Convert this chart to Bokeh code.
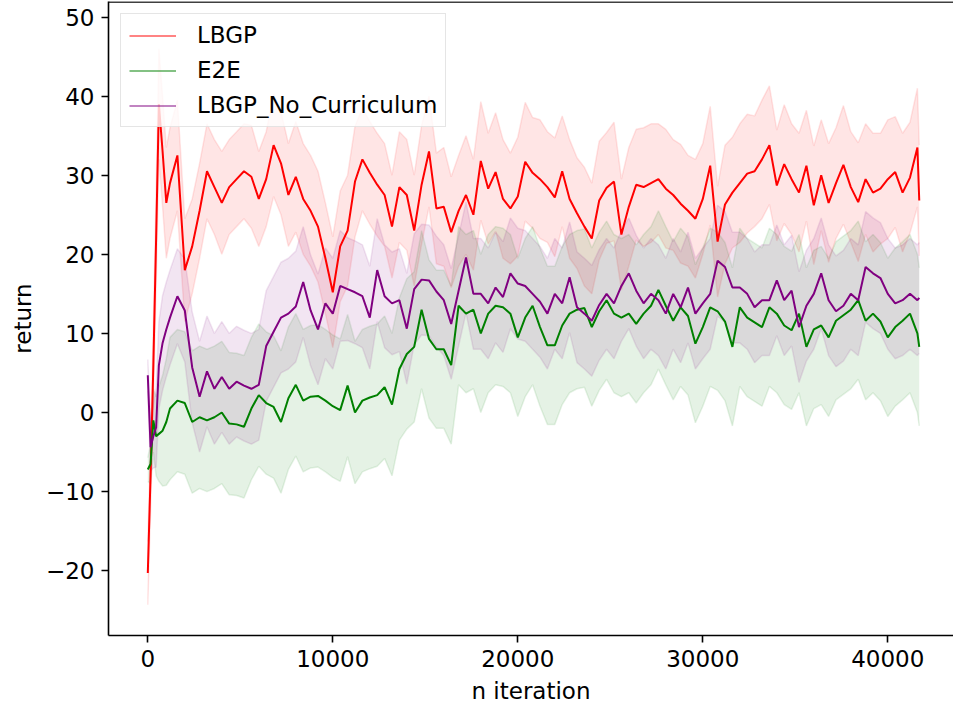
from bokeh.plotting import figure
from bokeh.models import Range1d, FixedTicker, CustomJSTickFormatter, Span, Legend, LegendItem
from bokeh.embed import file_html
from bokeh.resources import INLINE

# sampling grid (iterations)
iters = [0, 150, 300, 450, 600, 800, 1000] + list(range(1200, 41601, 400)) + [41700]

x_ticks = [0, 10000, 20000, 30000, 40000]
y_ticks = [-20, -10, 0, 10, 20, 30, 40, 50]

labels = ["LBGP", "E2E", "LBGP_No_Curriculum"]

lbgp_mean = [
    -20.3, -8, 6, 22, 39, 33, 26.5,
    29, 32.5, 18, 21, 25.5, 30.5, 28.5, 26.5, 28.5, 29.5,
    30.5, 29.8, 27, 29.5, 33.8, 31.5, 27.5, 29.8, 27, 25.5,
    23.5, 19.5, 15.2, 21, 23, 29.2, 32, 30.3, 28.8, 27.5,
    23.5, 28.5, 27.5, 23, 28.8, 33, 25.8, 26, 22.8, 25.5,
    27.5, 25, 31.8, 28.3, 30.4, 27, 25.8, 27.3, 31.7, 30.3,
    29.5, 28.5, 27.2, 30.5, 27, 25.2, 23.5, 22, 26.8, 28.4,
    29.2, 22.5, 26, 28.8, 28.5, 29, 29.5, 28.3, 27.5, 26.4,
    25.5, 24.5, 27, 31.2, 21.6, 26.3, 27.8, 29, 30.2, 30.5,
    32, 33.8, 28.7, 31.4, 29.5, 27.8, 31.2, 26.2, 30, 26.5,
    29, 31.3, 28.5, 26.6, 29.5, 27.8, 28.3, 29.5, 30.4, 27.8,
    29.7, 33.5, 26.8]
lbgp_std = [
    4, 4.5, 5, 6, 7, 7, 7,
    7, 7, 6.5, 6, 6, 6, 6, 6.5, 6, 6,
    6, 6.5, 6, 6, 6.5, 6.5, 6.5, 7, 7, 7,
    7, 7, 7, 7, 7, 7, 6.5, 6.5, 6.5, 6.5,
    6.5, 7, 7, 7, 7.5, 7, 7, 7.5, 7, 7,
    7.5, 7, 7.5, 7, 7.5, 7.5, 7, 7.5, 7.5, 7,
    7.5, 7, 7.5, 7, 7.5, 7, 7.5, 7, 7.5, 7,
    7.5, 7, 7.5, 7, 7.5, 7.5, 7, 7.5, 7, 7.5,
    7, 7.5, 7, 7.5, 7, 7.5, 7, 7.5, 7.5, 7,
    7.5, 7.5, 7, 7.5, 7, 7.5, 7, 7.5, 7, 7.5,
    7, 7.5, 7, 7.5, 7, 7.5, 7, 7.5, 7, 7.5,
    7, 7.5, 7]

e2e_mean = [
    -7.2, -6.5, -1, -3, -2.7, -2.3, -1.2,
    0.5, 1.5, 1.2, -1.2, -0.6, -1, -0.6, 0, -1.4, -1.5,
    -1.8, 0.5, 2.2, 1.2, 0.7, -1.2, 1.8, 3.5, 1.5, 2.0,
    2.1, 1.5, 0.8, 0.3, 3.4, 0, 1.5, 1.9, 2.2, 3.2,
    1.0, 5.5, 7.4, 8.3, 13, 9.3, 8, 8, 6, 13.5,
    12.5, 13, 10, 12.5, 13.5, 13.3, 12.5, 9.5, 12, 13.5,
    10.8, 8.5, 8.5, 11, 12.5, 13, 13.2, 10.8, 12.8, 14.2,
    12.5, 12, 12.5, 11.2, 12.5, 13.5, 15.5, 13.5, 11.6, 13.3,
    12.2, 8.7, 10.8, 13.3, 12.8, 11.5, 8.3, 13.3, 12, 11.4,
    10.8, 13.3, 12.5, 11, 10.4, 12.5, 8.3, 10.5, 11, 9.5,
    11.6, 12.3, 13, 14.2, 11.6, 12.5, 11.5, 9.5, 10.8, 11.6,
    12.5, 10, 8.3]
e2e_std = [
    1.5, 2.5, 4, 5, 6, 7, 8,
    9, 9, 9, 9, 9, 9, 9, 9, 9, 9,
    9, 9, 9, 9, 9, 9, 9, 9, 9, 9,
    9, 9, 9, 9, 9, 9, 9, 9, 9, 9,
    9, 9, 9.5, 9.5, 10, 10, 10, 10, 10, 10,
    10, 10, 10, 10, 10, 10, 10, 10, 10, 10,
    10, 10, 10, 10, 10, 10, 10, 10, 10, 10,
    10, 10, 10, 10, 10, 10, 10, 10, 10, 10,
    10, 10, 10, 10, 10, 10, 10, 10, 10, 10,
    10, 10, 10, 10, 10, 10, 10, 10, 10, 10,
    10, 10, 10, 10, 10, 10, 10, 10, 10, 10,
    10, 10, 10]

nocur_mean = [
    4.7, -4.4, -3, -1.9, 6, 8.8, 10.5,
    12, 14.7, 12.9, 5.7, 2, 5.2, 3, 4.5, 3, 3.9,
    3.4, 3, 3.5, 8.4, 10.2, 12, 12.5, 13.4, 16.5, 12.9,
    10.5, 13.8, 12.5, 16, 15.6, 15.2, 14.7, 12, 18, 14.7,
    13.8, 14.2, 10.6, 15.6, 16.8, 16.7, 15.3, 14.2, 11.2, 15.4,
    19.6, 15, 15, 13.8, 15.8, 14.6, 17.6, 16.3, 16, 15,
    14, 12.5, 15, 13.8, 17.1, 13.3, 12.5, 11.6, 13.6, 15,
    13.8, 16, 17.6, 15.4, 13.8, 15, 14.2, 12.5, 15, 13.3,
    15.8, 12.5, 13.8, 15, 19.2, 18.4, 15.8, 15.8, 15, 13.3,
    14.2, 14.2, 16.7, 14.2, 15.4, 10.8, 13.5, 15, 17.6, 14.2,
    12.8, 13.5, 15, 14.2, 18.4, 17.6, 17, 15, 13.8, 14.2,
    15, 14.2, 14.5]
nocur_std = [
    2, 3, 4, 5, 5.5, 6, 6,
    6, 6, 6.5, 7, 7, 7, 7, 7, 7, 7,
    7, 7, 7, 7, 7, 7, 7, 7, 7, 7,
    7, 7, 7, 7, 6.5, 6.5, 6.5, 6.5, 6.5, 6.5,
    6.5, 6.5, 7, 7, 7, 7, 7, 7, 7, 7,
    7, 7, 7, 7, 7, 7, 7, 7, 7, 7,
    7, 7, 7, 7, 7, 7, 7, 7, 7, 7,
    7, 7, 7, 7, 7, 7, 7, 7, 7, 7,
    7, 7, 7, 7, 7, 7, 7, 7, 7, 7,
    7, 7, 7, 7, 7, 7, 7, 7, 7, 7,
    7, 7, 7, 7, 7, 7, 7, 7, 7, 7,
    7, 7, 7]

for arr in (lbgp_mean, lbgp_std, e2e_mean, e2e_std, nocur_mean, nocur_std):
    assert len(arr) == len(iters), (len(arr), len(iters))

series = [
    (labels[0], lbgp_mean, lbgp_std, "red"),
    (labels[1], e2e_mean, e2e_std, "green"),
    (labels[2], nocur_mean, nocur_std, "purple"),
]

FONT = "DejaVu Sans"
FS = "23px"
X0, X1 = -2124, 43551
Y0, Y1 = -28.19, 51.96

p = figure(width=953, height=708, output_backend="svg", toolbar_location=None,
           x_range=Range1d(X0, X1), y_range=Range1d(Y0, Y1),
           min_border_left=108, min_border_right=0, min_border_top=1,
           min_border_bottom=73)
p.outline_line_color = None
p.grid.visible = False
p.background_fill_color = "white"

for name, m, s, c in series:
    lo = [a - b for a, b in zip(m, s)]
    hi = [a + b for a, b in zip(m, s)]
    p.varea(x=iters, y1=lo, y2=hi, fill_color=c, fill_alpha=0.1)
    p.line(iters, lo, line_color=c, line_alpha=0.1, line_width=1.5)
    p.line(iters, hi, line_color=c, line_alpha=0.1, line_width=1.5)

for name, m, s, c in series:
    p.line(iters, m, line_color=c, line_width=2)

items = []
for name, m, s, c in series:
    r = p.line([X0 - 5000, X0 - 4000], [0, 0], line_color=c, line_width=1.3, line_alpha=0.65)
    items.append(LegendItem(label=name, renderers=[r]))

legend = Legend(items=items, location="top_left",
                label_text_font=FONT, label_text_font_size=FS,
                label_text_color="black",
                glyph_width=47, glyph_height=23, label_height=23,
                label_standoff=21, spacing=9, padding=8, margin=12,
                border_line_color="#cccccc", border_line_width=1.2,
                background_fill_color="white", background_fill_alpha=0.8)
p.add_layout(legend)

p.add_layout(Span(location=Y1 - 0.06, dimension="width", line_color="black", line_width=1.6))

for ax in (p.xaxis[0], p.yaxis[0]):
    ax.axis_line_width = 1.6
    ax.axis_line_color = "black"
    ax.major_tick_line_width = 1.6
    ax.major_tick_line_color = "black"
    ax.major_tick_out = 7
    ax.major_tick_in = 0
    ax.minor_tick_line_color = None
    ax.major_label_text_font = FONT
    ax.major_label_text_font_size = FS
    ax.major_label_text_color = "black"
    ax.major_label_standoff = 7
    ax.axis_label_text_font = FONT
    ax.axis_label_text_font_size = FS
    ax.axis_label_text_font_style = "normal"
    ax.axis_label_text_color = "black"

p.xaxis[0].ticker = FixedTicker(ticks=x_ticks)
p.yaxis[0].ticker = FixedTicker(ticks=y_ticks)
p.yaxis[0].formatter = CustomJSTickFormatter(
    code="return tick < 0 ? '\\u2212' + Math.abs(tick) : String(tick);")
p.xaxis[0].axis_label = "n iteration"
p.yaxis[0].axis_label = "return"
p.xaxis[0].axis_label_standoff = 8
p.yaxis[0].axis_label_standoff = 7

open("out.html", "w").write(file_html(p, INLINE))
